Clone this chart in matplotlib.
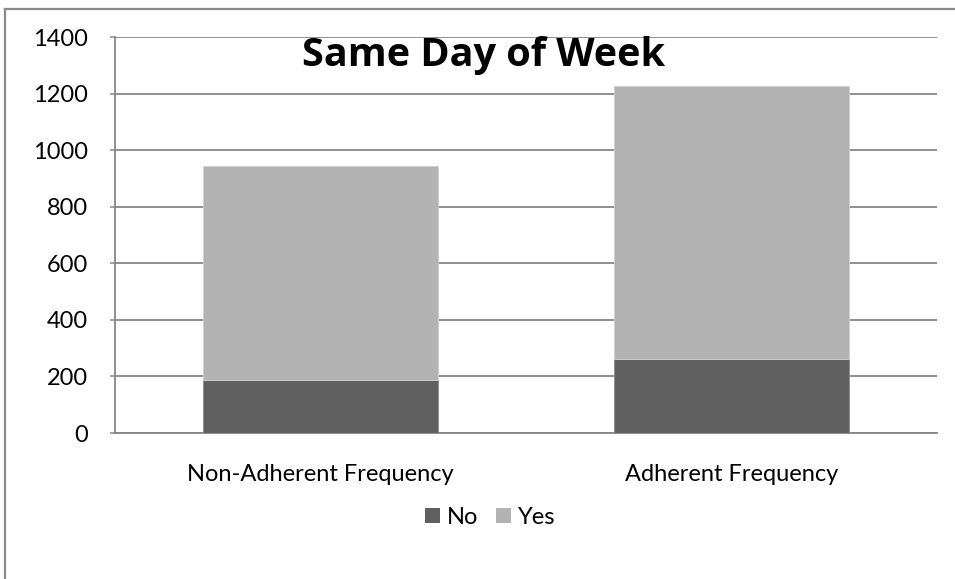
import matplotlib
matplotlib.use("Agg")
import matplotlib.pyplot as plt
from matplotlib.lines import Line2D
from matplotlib.patches import Patch

categories = ["Non-Adherent Frequency", "Adherent Frequency"]
no_values = [187, 260]
yes_values = [758, 968]
series_names = ["No", "Yes"]
y_ticks = [0, 200, 400, 600, 800, 1000, 1200, 1400]
title = "Same Day of Week"

NO_COLOR = "#606060"
YES_COLOR = "#b3b3b3"
GRID_COLOR = "#868686"
FONT = "Lato"

W, H = 955, 579
fig = plt.figure(figsize=(W / 100, H / 100), dpi=100)
fig.patch.set_facecolor("white")

ax = fig.add_axes([115 / W, 1 - 433 / H, (937 - 115) / W, (433 - 37) / H])
x = list(range(len(categories)))
bar_w = 0.574
ax.bar(x, no_values, width=bar_w, color=NO_COLOR, edgecolor="#8c8c8c",
       linewidth=0.6, zorder=3)
ax.bar(x, yes_values, width=bar_w, bottom=no_values, color=YES_COLOR,
       edgecolor="#d0d0d0", linewidth=0.6, zorder=3)

ax.set_xlim(-0.5, len(categories) - 0.5)
ax.set_ylim(0, 1400)
ax.set_yticks(y_ticks)
ax.set_yticklabels([str(v) for v in y_ticks], fontsize=17, family=FONT)
ax.set_xticks(x)
ax.set_xticklabels(categories, fontsize=17, family=FONT)
ax.tick_params(axis="y", length=3.5, width=1.1, color=GRID_COLOR, pad=16)
ax.tick_params(axis="x", length=0, pad=22)

ax.yaxis.grid(True, color=GRID_COLOR, linewidth=1.3, zorder=0)
ax.set_axisbelow(True)
for side in ("top", "right"):
    ax.spines[side].set_visible(False)
for side in ("left", "bottom"):
    ax.spines[side].set_color(GRID_COLOR)
    ax.spines[side].set_linewidth(1.3)

# chart title
fig.text(484 / W, 1 - 66 / H, title, ha="center", va="baseline",
         fontsize=28.5, fontweight="bold", family="Open Sans")

# legend below the plot
handles = [Patch(facecolor=NO_COLOR, edgecolor="none"),
           Patch(facecolor=YES_COLOR, edgecolor="none")]
fig.legend(handles, series_names, loc="center", ncol=2,
           bbox_to_anchor=(490 / W, 1 - 517 / H), frameon=False,
           prop={"family": FONT, "size": 17}, handlelength=0.62,
           handleheight=0.62, handletextpad=0.3, columnspacing=0.76)

# chart area frame
fig.add_artist(Line2D([4.5 / W, 1.0], [1 - 8.5 / H, 1 - 8.5 / H],
                      transform=fig.transFigure, color="#8a8a8a", linewidth=1.6))
fig.add_artist(Line2D([4.5 / W, 4.5 / W], [0.0, 1 - 8.5 / H],
                      transform=fig.transFigure, color="#8a8a8a", linewidth=1.6))

fig.savefig("out.png", dpi=100, facecolor="white")
